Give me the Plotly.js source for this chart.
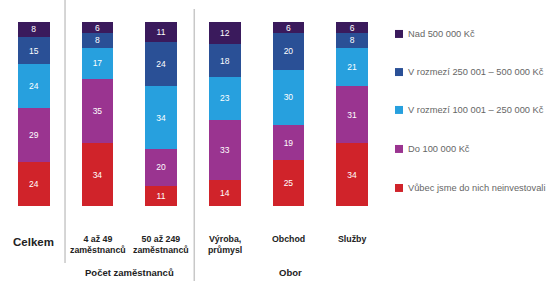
<!DOCTYPE html>
<html><head><meta charset="utf-8">
<script src="https://cdn.plot.ly/plotly-3.0.1.min.js"></script>
<style>html,body{margin:0;padding:0;background:#fff}#c{width:550px;height:281px}</style>
</head><body><div id="c"></div>
<script>
const categories = ["Celkem", "4 až 49<br>zaměstnanců", "50 až 249<br>zaměstnanců", "Výroba,<br>průmysl", "Obchod", "Služby"];
const seriesNames = ["Vůbec jsme do nich neinvestovali", "Do 100 000 Kč", "V rozmezí 100 001 – 250 000 Kč", "V rozmezí 250 001 – 500 000 Kč", "Nad 500 000 Kč"];
const vubec = [24, 34, 11, 14, 25, 34];
const do100 = [29, 35, 20, 33, 19, 31];
const r100_250 = [24, 17, 34, 23, 30, 21];
const r250_500 = [15, 8, 24, 18, 20, 8];
const nad500 = [8, 6, 11, 12, 6, 6];
const groupLabels = ["Počet zaměstnanců", "Obor"];
const colors = ["#d0232a", "#9a3490", "#27a0de", "#2a5096", "#3a1a5c"];

const values = [vubec, do100, r100_250, r250_500, nad500];
const xs = categories.map((c, i) => i);
const FONT = "Liberation Sans, Arial, sans-serif";
const traces = values.map((v, k) => ({
  type: "bar", x: xs, y: v, name: seriesNames[k],
  marker: {color: colors[k], line: {width: 0}},
  width: 0.5,
  text: v.map(String), textposition: "inside", insidetextanchor: "middle", textangle: 0,
  textfont: {color: "#ffffff", size: 8.5, family: FONT},
  constraintext: "none",
  showlegend: false, hoverinfo: "none"
}));

const annotations = categories.map((c, i) => ({
  x: i, xref: "x", y: i === 0 ? 0.0 : -0.02, yref: "paper", yanchor: "top", yshift: i === 0 ? -28 : -22,
  text: "<b>" + c + "</b>", showarrow: false,
  font: {family: FONT, size: i === 0 ? 11.5 : 8.8, color: "#222"}
}));
annotations.push({x: 1.5, xref: "x", y: -0.36, yref: "paper", yanchor: "middle", text: "<b>" + groupLabels[0] + "</b>", showarrow: false, font: {family: FONT, size: 9.5, color: "#222"}});
annotations.push({x: 4.03, xref: "x", y: -0.36, yref: "paper", yanchor: "middle", text: "<b>" + groupLabels[1] + "</b>", showarrow: false, font: {family: FONT, size: 9.5, color: "#222"}});

// custom legend (top to bottom: Nad 500 000 ... Vůbec)
const legendY = [0.098, 0.310, 0.522, 0.728, 0.935]; // for series index 0..4
const shapes = [
  {type: "line", xref: "x", yref: "paper", x0: 0.49, x1: 0.49, y0: 1.12, y1: -0.31, line: {color: "#c8c8c8", width: 1.5}},
  {type: "line", xref: "x", yref: "paper", x0: 2.52, x1: 2.52, y0: 1.07, y1: -0.41, line: {color: "#c8c8c8", width: 1.5}}
];
seriesNames.forEach((n, k) => {
  shapes.push({type: "rect", xref: "paper", yref: "paper", x0: 1.0288, x1: 1.0497, y0: legendY[k] - 0.0217, y1: legendY[k] + 0.0217,
    fillcolor: colors[k], line: {width: 0}});
  annotations.push({x: 1.058, xref: "paper", y: legendY[k], yref: "paper", xanchor: "left", yanchor: "middle",
    text: n, showarrow: false, font: {family: FONT, size: 9.3, color: "#666"}});
});

const layout = {
  width: 550, height: 281,
  margin: {l: 2, r: 166, t: 22, b: 75},
  paper_bgcolor: "#ffffff", plot_bgcolor: "#ffffff",
  barmode: "stack",
  xaxis: {range: [-0.5, 5.5], showticklabels: false, showgrid: false, zeroline: false, showline: false, ticks: "", fixedrange: true},
  yaxis: {range: [0, 100], visible: false, fixedrange: true},
  shapes: shapes,
  annotations: annotations,
  showlegend: false
};
Plotly.newPlot("c", traces, layout, {staticPlot: true, displayModeBar: false});
</script></body></html>
